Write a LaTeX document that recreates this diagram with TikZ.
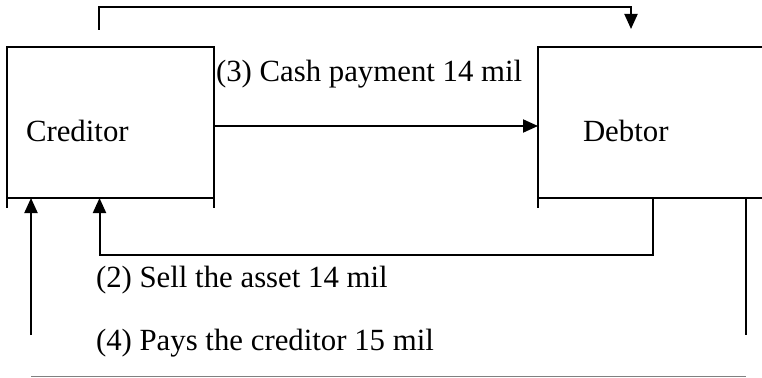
\documentclass[tikz,border=0pt]{standalone}
\usepackage{fontspec}
\setmainfont{Liberation Serif}
\usetikzlibrary{arrows.meta}
\begin{document}
\begin{tikzpicture}[x=1pt,y=-1pt,line width=2pt,
  boxn/.style={draw,outer sep=0pt,inner sep=0pt,minimum height=151pt},
  arr/.style={-{Triangle[length=15pt,width=13pt]}},
  txt/.style={inner sep=0pt,anchor=base west,font=\fontsize{30.8}{36}\selectfont}]
\clip (0,0) rectangle (762,377);
% boxes
\node[boxn,minimum width=207pt] (cred) at (110.5,122.5) {};
\node[boxn,minimum width=240pt] (deb) at (658,122.5) {};
\draw (cred.south west) -- ++(0,10);
\draw (cred.south east) -- ++(0,10);
\draw (deb.south west) -- ++(0,10);
% box texts
\node[txt] (credt) at (25,141.7) {Creditor};
\node[txt] (debt) at (582,141.7) {Debtor};
% labels
\node[txt] (l3) at (215,82) {(3) Cash payment 14 mil};
\node[txt] (l2) at (95,287) {(2) Sell the asset 14 mil};
\node[txt] (l4) at (95,350) {(4) Pays the creditor 15 mil};
% connectors
\coordinate (t1) at (99,30);
\coordinate (t2) at (631,29);
\draw[arr] (t1) -- (99,7) -| (t2);
\draw[arr] ([yshift=-3.5pt]cred.east) -- ([yshift=-3.5pt]deb.west);
\coordinate (b1) at (653,198);
\draw[arr] (b1) -- (653,255) -| ([xshift=-11pt]cred.south);
\coordinate (c4) at (31,335);
\draw[arr] (c4) -- (c4 |- cred.south);
\coordinate (r1) at (746,198);
\coordinate (r2) at (746,335);
\draw (r1) -- (r2);
\coordinate (g1) at (31,376.5);
\coordinate (g2) at (746,376.5);
\draw[gray,line width=1.2pt] (g1) -- (g2);
\end{tikzpicture}
\end{document}
